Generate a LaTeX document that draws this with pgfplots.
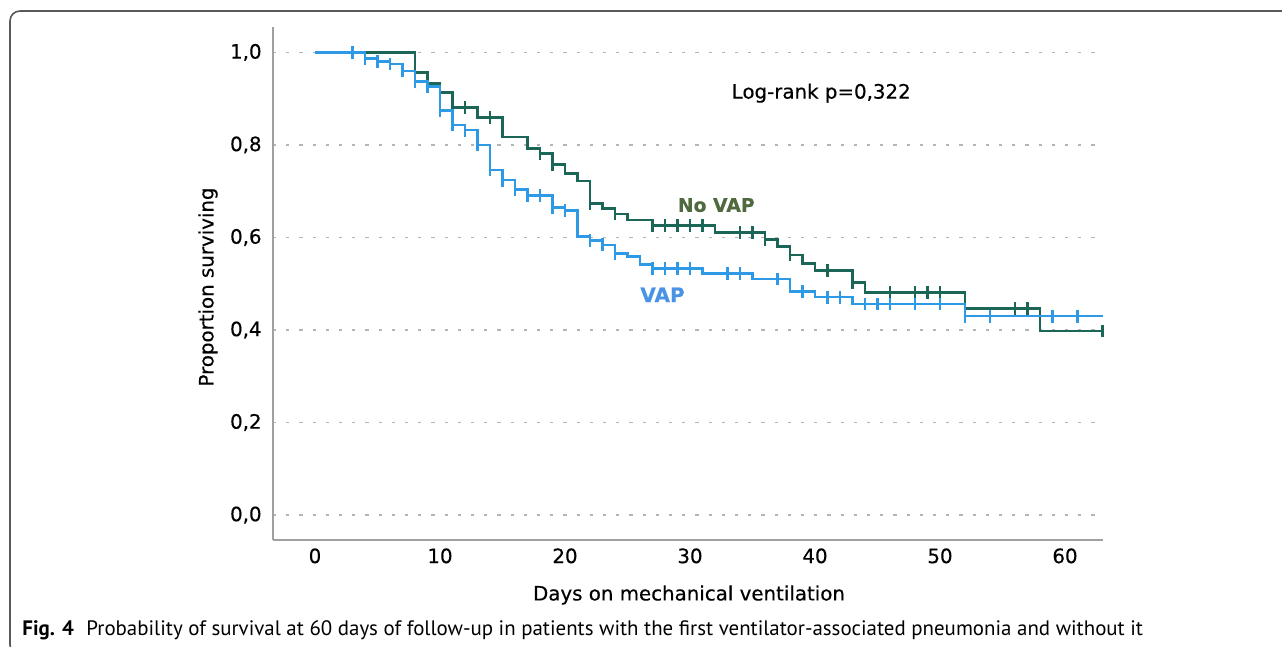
\documentclass[border=0pt]{standalone}
\usepackage{fontspec}
\setmainfont{DejaVu Sans}[FakeBold=0.4]
\newfontfamily\capfont{PT Sans}
\usepackage{pgfplots}
\pgfplotsset{compat=1.18}

\definecolor{novap}{RGB}{28,102,88}
\definecolor{vap}{RGB}{46,154,230}
\definecolor{novaptxt}{RGB}{78,106,62}
\definecolor{vaptxt}{RGB}{74,146,228}
\definecolor{gridc}{RGB}{180,180,180}
\definecolor{axisc}{RGB}{160,160,160}

\begin{document}
\begin{tikzpicture}[x=0.5pt,y=0.5pt]
\path[use as bounding box] (0,0) rectangle (1282,647);
\begin{scope}
  \clip (0,0) rectangle (1282,647);
  \draw[line width=0.8pt, draw=black!65, rounded corners=5pt]
    (1300,636) -- (10,636) -- (10,-8) -- (60,-8);
\end{scope}

\begin{axis}[
  at={(273pt*0.5,107pt*0.5)}, anchor=south west,
  scale only axis, width=415pt, height=256.5pt,
  xmin=-3.36, xmax=63.04, ymin=-0.054, ymax=1.055,
  axis x line*=bottom, axis y line*=left,
  axis line style={draw=axisc, line width=0.9pt, -},
  major tick length=0pt,
  xtick={0,10,20,30,40,50,60},
  ytick={0,0.2,0.4,0.6,0.8,1.0},
  ymajorgrids=true,
  grid style={gridc, line width=0.9pt, dash pattern=on 1.6pt off 5pt},
  tick label style={font=\fontsize{9.9}{11}\selectfont},
  yticklabel style={anchor=east, inner sep=0pt, xshift=-5.5pt,
    /pgf/number format/.cd, fixed, fixed zerofill, precision=1, use comma},
  xticklabel style={anchor=north, inner sep=0pt, yshift=-4pt},
  /pgf/number format/assume math mode=true,
  clip=false,
]
% No VAP
\addplot[const plot, novap, line width=1.35pt] coordinates {
 (0,1.000) (8,0.957) (9,0.933) (10,0.913) (11,0.881) (13,0.860) (15,0.817)
 (17,0.793) (18,0.782) (19,0.758) (20,0.739) (21,0.722) (22,0.674) (23,0.663)
 (24,0.651) (25,0.638) (27,0.626) (32,0.611) (36,0.596) (37,0.580) (38,0.562)
 (39,0.544) (40,0.528) (43,0.503) (44,0.481) (52,0.447) (58,0.398) (63,0.398)
};
% VAP
\addplot[const plot, vap, line width=1.35pt] coordinates {
 (0,1.000) (4,0.987) (5,0.980) (6,0.975) (7,0.960) (8,0.937) (9,0.926)
 (10,0.874) (11,0.843) (12,0.832) (13,0.800) (14,0.746) (15,0.724) (16,0.703)
 (17,0.690) (19,0.665) (20,0.659) (21,0.602) (22,0.593) (23,0.584) (24,0.566)
 (25,0.559) (26,0.542) (27,0.533) (31,0.522) (35,0.510) (38,0.483) (40,0.471)
 (43,0.456) (52,0.430) (63,0.430)
};
% censored, No VAP
\addplot[only marks, mark=|, mark size=3.2pt, novap, mark options={line width=1.1pt}] coordinates {
 (12,0.881) (14,0.860) (18,0.782) (19,0.758) (22,0.674) (24,0.651)
 (27,0.626) (28,0.626) (29,0.626) (30,0.626) (31,0.626) (34,0.611) (35,0.611)
 (36,0.596) (38,0.562) (41,0.528) (43,0.503) (46,0.481) (48,0.481) (49,0.481)
 (50,0.481) (56,0.447) (57,0.447) (63,0.398)
};
% censored, VAP
\addplot[only marks, mark=|, mark size=3.2pt, vap, mark options={line width=1.1pt}] coordinates {
 (3,1.000) (4,0.987) (5,0.980) (6,0.975) (7,0.960) (8,0.937) (9,0.926)
 (10,0.874) (11,0.843) (12,0.832) (13,0.800) (14,0.746) (15,0.724) (16,0.703)
 (17,0.690) (18,0.690) (19,0.665) (20,0.659) (22,0.593) (23,0.584) (24,0.566)
 (27,0.533) (28,0.533) (29,0.533) (30,0.533) (33,0.522) (34,0.522) (37,0.510)
 (39,0.483) (41,0.471) (42,0.471) (44,0.456) (45,0.456) (46,0.456) (48,0.456)
 (50,0.456) (52,0.430) (54,0.430) (59,0.430) (61,0.430)
};
\node[font=\fontsize{9.9}{11}\selectfont] at (axis cs:40.5,0.912) {Log-rank p=0,322};
\node[font=\fontsize{9.4}{12}\selectfont\bfseries, text=novaptxt] at (axis cs:32.1,0.670) {No VAP};
\node[font=\fontsize{10}{12}\selectfont\bfseries, text=vaptxt] at (axis cs:27.8,0.476) {VAP};
\end{axis}

\node[font=\fontsize{9.9}{11}\selectfont] at (689,52) {Days on mechanical ventilation};
\node[font=\fontsize{9.9}{11}\selectfont, rotate=90] at (208,360) {Proportion surviving};
\node[font=\capfont\fontsize{10.45}{12}\selectfont, anchor=base west, inner sep=0pt] at (22,11)
  {\textbf{Fig. 4}\hspace{0.6em}Probability of survival at 60 days of follow-up in patients with the first ventilator-associated pneumonia and without it};
\end{tikzpicture}
\end{document}
